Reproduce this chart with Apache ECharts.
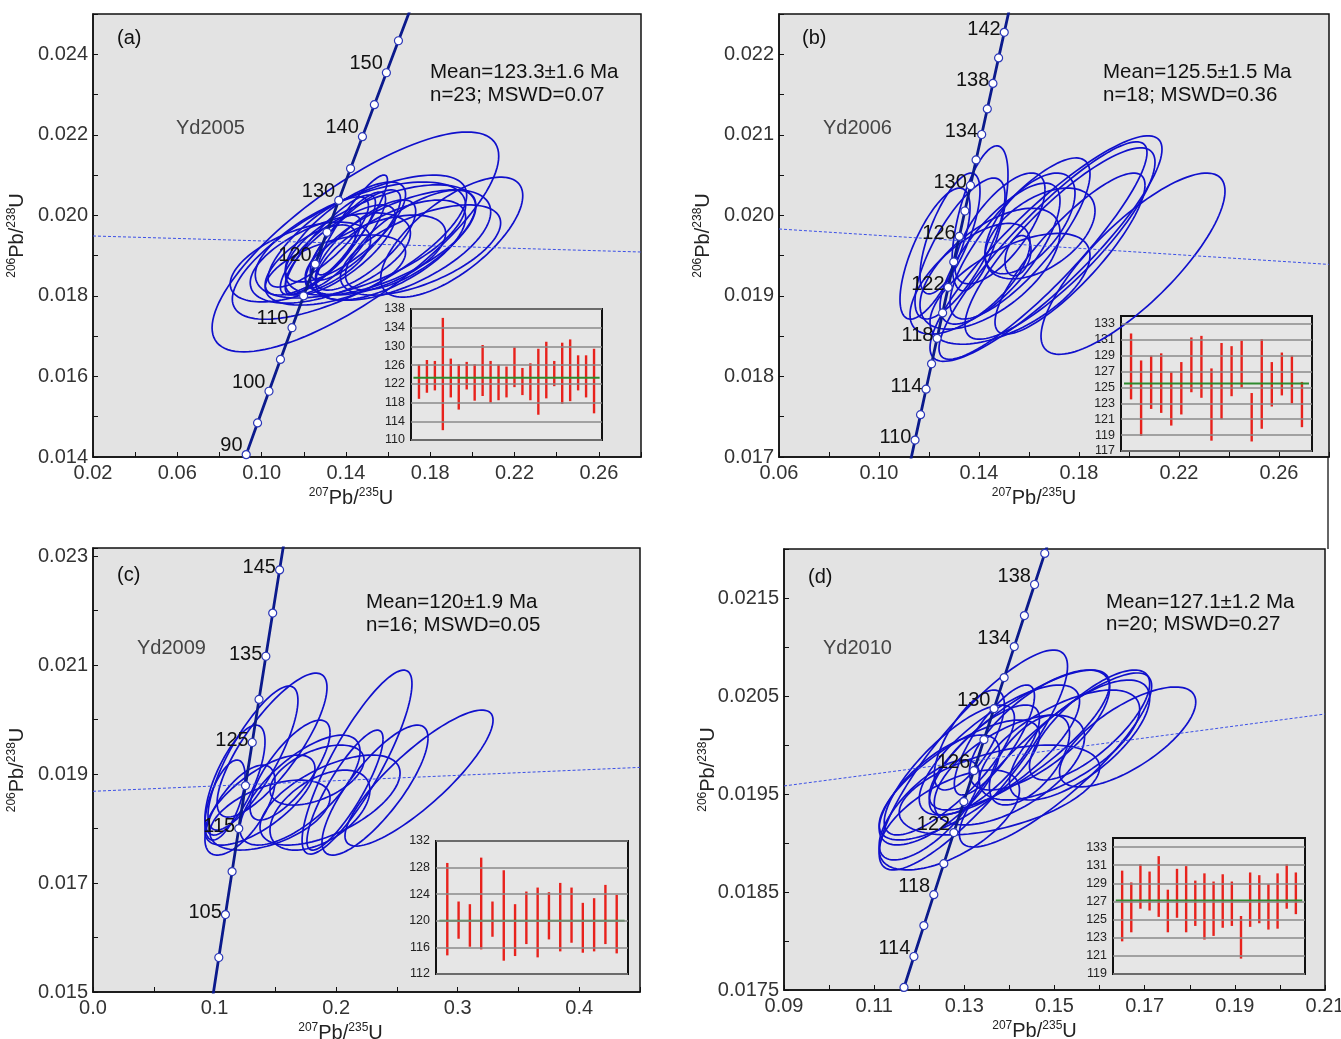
<!DOCTYPE html>
<html><head><meta charset="utf-8">
<script src="https://cdn.jsdelivr.net/npm/echarts@6/dist/echarts.min.js"></script>
<style>html,body{margin:0;padding:0;background:#fff}#c{width:1341px;height:1039px}</style>
</head><body><div id="c"></div>
<script>
// ================= DATA =================
// Error ellipses: [207Pb/235U centre, 206Pb/238U centre, x half-extent, y half-extent, correlation]
const ellipsesA = [
 [0.1445,0.01934,0.0680,0.00273,0.78],[0.1417,0.01921,0.0556,0.00179,0.72],[0.1902,0.01946,0.0337,0.00149,0.69],
 [0.1326,0.019264,0.0214,0.00124,0.85],[0.1398,0.019388,0.0190,0.00119,0.85],[0.1445,0.019512,0.0214,0.00112,0.80],
 [0.1279,0.019016,0.0190,0.00099,0.80],[0.1374,0.01914,0.0261,0.00112,0.75],[0.1493,0.019264,0.0238,0.00112,0.75],
 [0.1231,0.018892,0.0214,0.00087,0.70],[0.1469,0.019388,0.0499,0.00144,0.60],[0.1564,0.019388,0.0452,0.00137,0.60],
 [0.1326,0.018941,0.0380,0.00112,0.55],[0.1659,0.019264,0.0428,0.00137,0.60],[0.1184,0.018842,0.0333,0.00099,0.55],
 [0.1754,0.01914,0.0380,0.00112,0.60],[0.1398,0.019587,0.0285,0.00124,0.75],[0.1540,0.019016,0.0333,0.00099,0.55],
 [0.1612,0.01914,0.0356,0.00124,0.65],[0.1269,0.01934,0.0238,0.00112,0.80],[0.1431,0.019761,0.0166,0.00124,0.90],
 [0.1350,0.018643,0.0333,0.00087,0.50],[0.1707,0.019388,0.0309,0.00124,0.70]
];
const ellipsesB = [
 [0.2016,0.01940,0.0368,0.001125,0.80],[0.1668,0.019588,0.0464,0.00140,0.88],[0.1656,0.019563,0.0416,0.00135,0.90],
 [0.1724,0.01965,0.0380,0.001188,0.85],[0.1564,0.019713,0.0280,0.00100,0.80],[0.1484,0.019525,0.0240,0.000875,0.75],
 [0.1224,0.019525,0.0140,0.000813,0.70],[0.1404,0.019963,0.0112,0.00090,0.60],[0.1324,0.019588,0.0180,0.000875,0.75],
 [0.1484,0.019838,0.0180,0.000688,0.70],[0.1604,0.01990,0.0180,0.000625,0.60],[0.1556,0.01950,0.0052,0.00025,0.30],
 [0.1444,0.019338,0.0280,0.00075,0.60],[0.1364,0.019213,0.0240,0.000688,0.65],[0.1644,0.019775,0.0220,0.000563,0.50],
 [0.1284,0.019775,0.0120,0.00075,0.70],[0.1524,0.019088,0.0320,0.000688,0.60],[0.1764,0.019525,0.0300,0.00100,0.85]
];
const ellipsesC = [
 [0.2682,0.018927,0.0609,0.001248,0.85],[0.2172,0.01922,0.0452,0.001688,0.85],[0.2320,0.018706,0.0436,0.001193,0.80],
 [0.1473,0.019532,0.0452,0.001321,0.80],[0.1316,0.019294,0.0370,0.001321,0.80],[0.1168,0.01889,0.0247,0.001009,0.70],
 [0.1843,0.018982,0.0387,0.00055,0.50],[0.2073,0.018706,0.0313,0.001101,0.85],[0.1703,0.018706,0.0494,0.001009,0.70],
 [0.1374,0.018523,0.0452,0.000826,0.70],[0.1950,0.018523,0.0576,0.000826,0.60],[0.1209,0.018339,0.0288,0.000826,0.65],
 [0.1621,0.019073,0.0329,0.000917,0.75],[0.1867,0.018339,0.0411,0.000734,0.50],[0.1456,0.018248,0.0494,0.000642,0.50],
 [0.1086,0.018523,0.0165,0.000734,0.60]
];
const ellipsesD = [
 [0.16622,0.020082,0.01511,0.00051,0.70],[0.13200,0.019847,0.02089,0.001122,0.85],[0.15022,0.019847,0.02133,0.000888,0.85],
 [0.14222,0.020051,0.02000,0.000714,0.80],[0.13778,0.019949,0.01778,0.000663,0.75],[0.12889,0.019643,0.01778,0.000612,0.75],
 [0.12444,0.019541,0.01333,0.000561,0.70],[0.14667,0.020153,0.01556,0.000612,0.70],[0.13444,0.019847,0.01222,0.000561,0.75],
 [0.14000,0.019745,0.01667,0.000561,0.60],[0.12667,0.019745,0.01444,0.000663,0.80],[0.15111,0.020000,0.01778,0.000561,0.65],
 [0.15556,0.020051,0.01556,0.000612,0.70],[0.12222,0.019337,0.01111,0.00051,0.70],[0.13667,0.020051,0.00889,0.000561,0.80],
 [0.14444,0.019847,0.00889,0.000459,0.60],[0.13778,0.019541,0.02222,0.000459,0.50],[0.13111,0.020051,0.00778,0.00051,0.70],
 [0.15778,0.020204,0.01333,0.000561,0.75],[0.12667,0.019235,0.01556,0.00051,0.60]
];

// Concordia markers (age in Ma, 207Pb/235U, 206Pb/238U)
const agesA = [90,95,100,105,110,115,120,125,130,135,140,145,150,155,160];
const concXA = [0.092683,0.098077,0.103498,0.108945,0.114419,0.119920,0.125449,0.131005,0.136587,0.142198,0.147837,0.153503,0.159197,0.164920,0.170669];
const concYA = [0.014059,0.014846,0.015633,0.016422,0.017210,0.018000,0.018789,0.019580,0.020371,0.021163,0.021955,0.022748,0.023541,0.024336,0.025131];
const ageLabelsA = [90,100,110,120,130,140,150];

const agesB = [108,110,112,114,116,118,120,122,124,126,128,130,132,134,136,138,140,142,144];
const concXB = [0.112226,0.114419,0.116617,0.118818,0.121024,0.123234,0.125449,0.127668,0.129891,0.132119,0.134351,0.136587,0.138829,0.141074,0.143324,0.145578,0.147837,0.150100,0.152367];
const concYB = [0.016895,0.017210,0.017526,0.017842,0.018157,0.018473,0.018789,0.019106,0.019422,0.019738,0.020054,0.020371,0.020688,0.021004,0.021321,0.021638,0.021955,0.022272,0.022589];
const ageLabelsB = [110,114,118,122,126,130,134,138,142];

const agesC = [95,100,105,110,115,120,125,130,135,140,145,150];
const concXC = [0.098077,0.103498,0.108945,0.114419,0.119920,0.125449,0.131005,0.136587,0.142198,0.147837,0.153503,0.159197];
const concYC = [0.014846,0.015633,0.016422,0.017210,0.018000,0.018789,0.019580,0.020371,0.021163,0.021955,0.022748,0.023541];
const ageLabelsC = [105,115,125,135,145];

const agesD = [110,112,114,116,118,120,122,124,126,128,130,132,134,136,138,140,142];
const concXD = [0.114419,0.116617,0.118818,0.121024,0.123234,0.125449,0.127668,0.129891,0.132119,0.134351,0.136587,0.138829,0.141074,0.143324,0.145578,0.147837,0.150100];
const concYD = [0.017210,0.017526,0.017842,0.018157,0.018473,0.018789,0.019106,0.019422,0.019738,0.020054,0.020371,0.020688,0.021004,0.021321,0.021638,0.021955,0.022272];
const ageLabelsD = [114,118,122,126,130,134,138];

// thin reference lines (x ends, y ends)
const trendXA = [0.02,0.28], trendYA = [0.019488,0.019090];
const trendXB = [0.06,0.28], trendYB = [0.019831,0.019391];
const trendXC = [0.0,0.45],  trendYC = [0.018684,0.019123];
const trendXD = [0.09,0.21], trendYD = [0.019582,0.020316];

// main axis tick labels
const xLabelsA = [0.02,0.06,0.10,0.14,0.18,0.22,0.26];
const yLabelsA = [0.014,0.016,0.018,0.020,0.022,0.024];
const xLabelsB = [0.06,0.10,0.14,0.18,0.22,0.26];
const yLabelsB = [0.017,0.018,0.019,0.020,0.021,0.022];
const xLabelsC = [0.0,0.1,0.2,0.3,0.4];
const yLabelsC = [0.015,0.017,0.019,0.021,0.023];
const xLabelsD = [0.09,0.11,0.13,0.15,0.17,0.19,0.21];
const yLabelsD = [0.0175,0.0185,0.0195,0.0205,0.0215];

// Inset age bars (Ma): upper and lower ends, weighted means
const hiA = [126.1,127.1,126.9,136.1,127.4,126.2,126.7,126.2,130.3,126.9,126.1,125.7,129.8,125.4,126.4,129.5,131.0,126.9,130.8,131.5,128.1,128.1,129.5];
const loA = [118.8,120.1,120.6,112.1,119.1,116.5,120.8,118.4,119.4,118.0,118.5,119.1,121.3,119.6,118.5,115.4,118.9,121.5,117.7,118.3,120.6,119.1,115.7];
const hiB = [131.8,128.4,129.0,129.3,126.9,128.2,131.3,131.5,127.4,130.6,130.2,130.9,124.3,131.1,128.2,129.4,129.0,125.7];
const loB = [123.5,118.9,122.3,121.8,120.2,121.6,124.4,123.7,118.3,121.0,123.9,125.0,118.2,119.8,122.6,124.0,123.0,120.0];
const hiC = [128.7,122.9,122.5,129.5,122.9,127.6,122.5,124.4,125.0,124.3,125.7,125.0,122.7,123.4,125.4,123.9];
const loC = [114.8,117.3,116.1,115.7,117.6,114.0,114.7,116.5,114.5,117.2,115.4,116.7,115.2,115.4,116.5,115.1];
const hiD = [130.4,129.1,131.1,130.3,132.0,128.3,130.6,130.9,129.3,130.1,129.2,130.0,129.2,125.4,130.2,129.9,128.9,130.1,131.1,130.2];
const loD = [122.6,123.6,126.2,126.0,125.3,123.6,125.2,123.6,124.3,122.8,123.2,124.1,124.3,120.7,124.2,124.6,123.9,124.0,126.2,125.6];
const meanA = 123.3, meanB = 125.5, meanC = 120, meanD = 127.1;
const insetTicksA = [110,114,118,122,126,130,134,138];
const insetTicksB = [117,119,121,123,125,127,129,131,133];
const insetTicksC = [112,116,120,124,128,132];
const insetTicksD = [119,121,123,125,127,129,131,133];

const sampleNames = ['Yd2005','Yd2006','Yd2009','Yd2010'];
const panelTags = ['(a)','(b)','(c)','(d)'];
const meanTexts = ['Mean=123.3±1.6 Ma','Mean=125.5±1.5 Ma','Mean=120±1.9 Ma','Mean=127.1±1.2 Ma'];
const statTexts = ['n=23; MSWD=0.07','n=18; MSWD=0.36','n=16; MSWD=0.05','n=20; MSWD=0.27'];

// ================= LAYOUT / STYLE =================
const FONT = '"Liberation Sans", Arial, sans-serif';
const mainGrids = [
  {left:93, top:14, width:548, height:443},
  {left:779, top:14, width:550, height:443},
  {left:93, top:548, width:547, height:444},
  {left:784, top:549, width:541, height:441}
];
const insetGrids = [
  {left:411, top:309, width:191, height:131},
  {left:1121, top:316, width:191, height:135},
  {left:436, top:841, width:192, height:133},
  {left:1113, top:838, width:192, height:136}
];
const xCfg = [
  {min:0.02, max:0.28, step:0.02, labels:xLabelsA, dec:2},
  {min:0.06, max:0.28, step:0.02, labels:xLabelsB, dec:2},
  {min:0.0, max:0.45, step:0.05, labels:xLabelsC, dec:1},
  {min:0.09, max:0.21, step:0.01, labels:xLabelsD, dec:2}
];
const yCfg = [
  {min:0.014, max:0.025, step:0.001, labels:yLabelsA, dec:3},
  {min:0.017, max:0.0225, step:0.0005, labels:yLabelsB, dec:3},
  {min:0.015, max:0.02315, step:0.001, labels:yLabelsC, dec:3},
  {min:0.0175, max:0.022, step:0.0005, labels:yLabelsD, dec:4}
];
const insetY = [
  {min:110, max:138, ticks:insetTicksA},
  {min:117, max:134, ticks:insetTicksB},
  {min:112, max:132, ticks:insetTicksC},
  {min:119, max:134, ticks:insetTicksD}
];
const ellipses = [ellipsesA, ellipsesB, ellipsesC, ellipsesD];
const conc = [
  {ages:agesA, x:concXA, y:concYA, lab:ageLabelsA, off:[3,-9]},
  {ages:agesB, x:concXB, y:concYB, lab:ageLabelsB, off:[3,-3]},
  {ages:agesC, x:concXC, y:concYC, lab:ageLabelsC, off:[3,-2]},
  {ages:agesD, x:concXD, y:concYD, lab:ageLabelsD, off:[3,-8]}
];
const trends = [[trendXA,trendYA],[trendXB,trendYB],[trendXC,trendYC],[trendXD,trendYD]];
const bars = [[loA,hiA,meanA],[loB,hiB,meanB],[loC,hiC,meanC],[loD,hiD,meanD]];
const textPos = [
  {tag:[117,38], name:[176,128], mean:[430,72], stat:[430,95]},
  {tag:[802,38], name:[823,128], mean:[1103,72], stat:[1103,95]},
  {tag:[117,575], name:[137,648], mean:[366,602], stat:[366,625]},
  {tag:[808,577], name:[823,648], mean:[1106,602], stat:[1106,624]}
];
const xNameShift = [-16, -20, -26, -20];

function inList(list, v){ return list.some(t => Math.abs(t - v) < 1e-9); }
const richName = {
  s:{fontSize:12, lineHeight:13, verticalAlign:'top', fontFamily:FONT, color:'#222'},
  n:{fontSize:20, lineHeight:23, fontFamily:FONT, color:'#222'}
};

function ellipseItem(params, api){
  const cx=api.value(0), cy=api.value(1), ex=api.value(2), ey=api.value(3), r=api.value(4);
  const s=Math.sqrt(1-r*r), pts=[];
  for(let k=0;k<=120;k++){
    const t=k/120*2*Math.PI;
    pts.push(api.coord([cx+ex*Math.cos(t), cy+ey*(r*Math.cos(t)+s*Math.sin(t))]));
  }
  return {type:'polyline', shape:{points:pts}, style:{stroke:'#1010cc', lineWidth:1.7, fill:null}};
}
function barItem(params, api){
  const p1=api.coord([api.value(0), api.value(1)]), p2=api.coord([api.value(0), api.value(2)]);
  return {type:'line', shape:{x1:p1[0],y1:p1[1],x2:p2[0],y2:p2[1]}, style:{stroke:'#e8221c', lineWidth:2.4}};
}

const grid=[], xAxis=[], yAxis=[], series=[], graphic=[];
for(let i=0;i<4;i++){
  grid.push(Object.assign({show:true, backgroundColor:'#e3e3e3', borderColor:'#111', borderWidth:1.5, outerBoundsMode:'none', containLabel:false}, mainGrids[i]));
  const xc=xCfg[i], yc=yCfg[i];
  const sh = xNameShift[i];
  xAxis.push({type:'value', gridIndex:i, min:xc.min, max:xc.max, interval:xc.step,
    axisLine:{show:true, onZero:false, lineStyle:{color:'#111', width:1.5}},
    axisTick:{show:true, inside:true, length:5, lineStyle:{color:'#111', width:1}},
    splitLine:{show:false},
    axisLabel:{fontSize:20, fontFamily:FONT, color:'#333', margin:6, showMaxLabel:true, showMinLabel:true,
      formatter:(v)=> inList(xc.labels, v) ? v.toFixed(xc.dec) : ''},
    name:'{s|207}{n|Pb/}{s|235}{n|U}', nameLocation:'middle', nameGap:30, nameMoveOverlap:false,
    nameTextStyle:{rich:richName, padding: sh < 0 ? [0, -2*sh, 0, 0] : [0, 0, 0, 2*sh]}
  });
  yAxis.push({type:'value', gridIndex:i, min:yc.min, max:yc.max, interval:yc.step,
    axisLine:{show:true, onZero:false, lineStyle:{color:'#111', width:1.5}},
    axisTick:{show:true, inside:true, length:5, lineStyle:{color:'#111', width:1}},
    splitLine:{show:false},
    axisLabel:{fontSize:20, fontFamily:FONT, color:'#333', margin:5,
      formatter:(v)=> inList(yc.labels, v) ? v.toFixed(yc.dec) : ''},
    name:'{s|206}{n|Pb/}{s|238}{n|U}', nameLocation:'middle', nameGap:64, nameRotate:90, nameMoveOverlap:false,
    nameTextStyle:{rich:richName}
  });
}
for(let i=0;i<4;i++){
  grid.push(Object.assign({show:true, backgroundColor:'#e6e6e6', borderColor:'#111', borderWidth:2, outerBoundsMode:'none', containLabel:false}, insetGrids[i]));
  const n = bars[i][0].length;
  xAxis.push({type:'value', gridIndex:4+i, min:0, max:n+1, show:false});
  const iy = insetY[i];
  yAxis.push({type:'value', gridIndex:4+i, min:iy.min, max:iy.max,
    axisLine:{show:false}, axisTick:{show:false}, splitLine:{show:false},
    axisLabel:{customValues:iy.ticks, fontSize:12.5, fontFamily:FONT, color:'#222', margin:6}
  });
}

for(let i=0;i<4;i++){
  series.push({type:'custom', xAxisIndex:i, yAxisIndex:i, renderItem:ellipseItem, clip:true, z:2,
    dimensions:['cx','cy','ex','ey','rho'], encode:{x:0, y:1}, data:ellipses[i], silent:true});
  const tr = trends[i];
  series.push({type:'line', xAxisIndex:i, yAxisIndex:i, z:3, symbol:'none', silent:true,
    lineStyle:{color:'#3c50e6', width:1, type:[3,2]},
    data: tr[0].map((x,k)=>[x, tr[1][k]])});
  const c = conc[i];
  series.push({type:'line', xAxisIndex:i, yAxisIndex:i, z:5, clip:true, showAllSymbol:true,
    symbol:'circle', symbolSize:8,
    itemStyle:{color:'#ffffff', borderColor:'#2a36b8', borderWidth:1.2},
    lineStyle:{color:'#0b1a8c', width:2.8},
    label:{show:false, position:'left', distance:2, offset:c.off, fontSize:20, fontFamily:FONT, color:'#111', formatter:'{b}'},
    data: c.ages.map((a,k)=>({name:String(a), value:[c.x[k], c.y[k]], label:{show: c.lab.includes(a)}}))
  });
  // inset
  const [lo, hi, mean] = bars[i];
  const iy = insetY[i];
  series.push({type:'line', xAxisIndex:4+i, yAxisIndex:4+i, z:2, symbol:'none', silent:true,
    data:[[0, iy.min]], lineStyle:{opacity:0},
    markLine:{silent:true, symbol:['none','none'], label:{show:false}, animation:false,
      lineStyle:{color:'#8a8a8a', width:1.6, type:'solid'},
      data: iy.ticks.map(v=>({yAxis:v}))}
  });
  series.push({type:'custom', xAxisIndex:4+i, yAxisIndex:4+i, z:3, renderItem:barItem, silent:true,
    dimensions:['i','lo','hi'], encode:{x:0, y:[1,2]},
    data: lo.map((l,k)=>[k+1, l, hi[k]])});
  series.push({type:'line', xAxisIndex:4+i, yAxisIndex:4+i, z:4, symbol:'none', silent:true,
    lineStyle:{color:'#2e8b2e', width:2},
    data:[[0.3, mean],[lo.length+0.7, mean]]});

  const tp = textPos[i];
  const mk = (pos, txt, size, col) => ({type:'text', silent:true, z:10,
    style:{x:pos[0], y:pos[1], text:txt, font:size+'px '+FONT, fill:col, verticalAlign:'middle', align:'left'}});
  graphic.push(mk(tp.tag, panelTags[i], 20, '#111'));
  graphic.push(mk(tp.name, sampleNames[i], 20, '#444'));
  graphic.push(mk(tp.mean, meanTexts[i], 20.5, '#111'));
  graphic.push(mk(tp.stat, statTexts[i], 20.5, '#111'));
}
graphic.push({type:'line', silent:true, shape:{x1:1328,y1:457,x2:1328,y2:549}, style:{stroke:'#333', lineWidth:1.5}});

const chart = echarts.init(document.getElementById('c'));
chart.setOption({animation:false, backgroundColor:'#ffffff', grid, xAxis, yAxis, series, graphic});
</script>
</body></html>
